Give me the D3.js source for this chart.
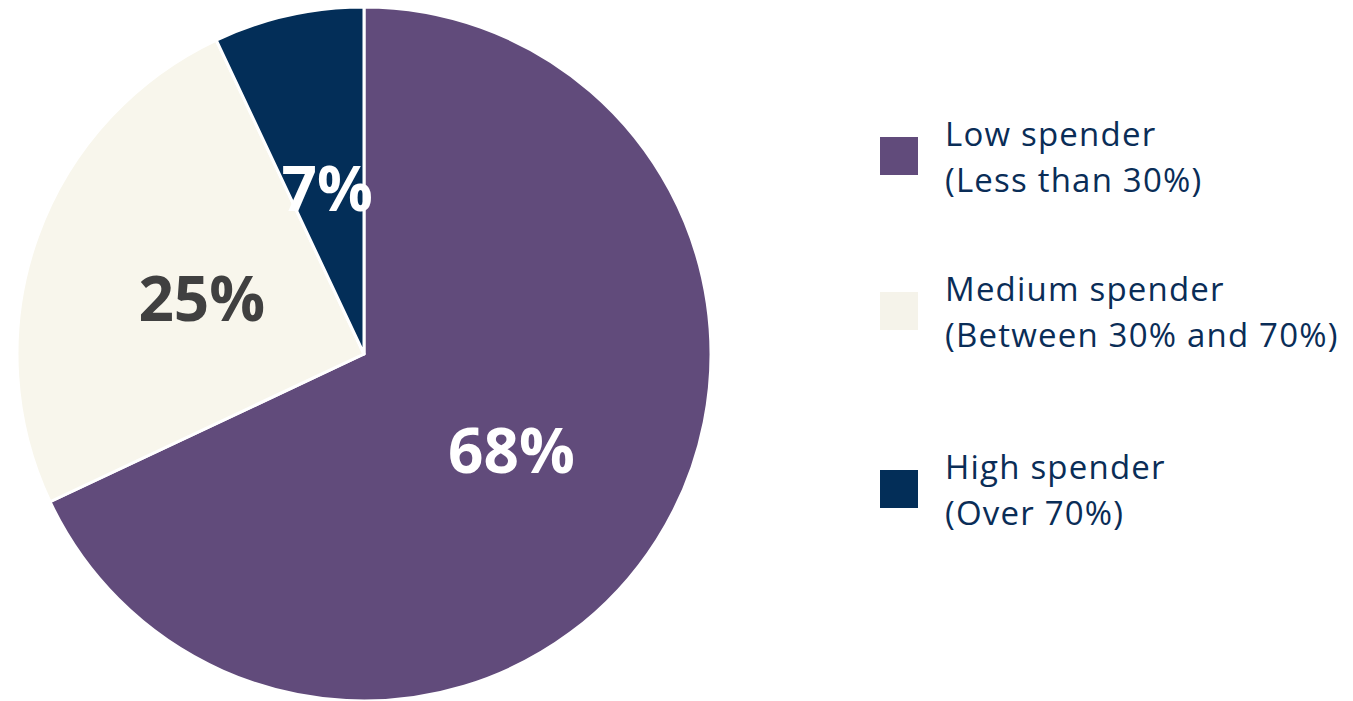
<!DOCTYPE html>
<html>
<head>
<meta charset="utf-8">
<script src="https://cdn.jsdelivr.net/npm/d3@7"></script>
<style>
  html, body { margin: 0; padding: 0; background: #ffffff; }
  svg { display: block; }
</style>
</head>
<body>
<svg id="chart" width="1353" height="701"></svg>
<script>
const categories = ["Low spender", "Medium spender", "High spender"];
const subtitles = ["(Less than 30%)", "(Between 30% and 70%)", "(Over 70%)"];
const values = [68, 25, 7];
const labels = ["68%", "25%", "7%"];
const colors = ["#614b7b", "#f8f6ec", "#032e58"];
const legendColors = ["#614b7b", "#f5f3ea", "#032e58"];
const labelColors = ["#ffffff", "#404040", "#ffffff"];

const svg = d3.select("#chart");
const cx = 364, cy = 354, R = 347;
const fontFamily = "'Open Sans', 'Noto Sans', sans-serif";

const pie = d3.pie().sort(null).value(d => d);
const arcs = pie(values);
const arc = d3.arc().innerRadius(0).outerRadius(R);
const labelArc = d3.arc().innerRadius(R * 0.5).outerRadius(R * 0.5);

const g = svg.append("g").attr("transform", `translate(${cx},${cy})`);
g.selectAll("path.slice").data(arcs).enter().append("path")
  .attr("class", "slice")
  .attr("d", arc)
  .attr("fill", (d, i) => colors[i])
  .attr("stroke", "#ffffff")
  .attr("stroke-width", 3)
  .attr("stroke-linejoin", "round");

g.selectAll("text.lbl").data(arcs).enter().append("text")
  .attr("class", "lbl")
  .attr("x", d => labelArc.centroid(d)[0] + 1)
  .attr("y", d => labelArc.centroid(d)[1] + 26)
  .attr("text-anchor", "middle")
  .attr("font-family", fontFamily)
  .attr("font-weight", 700)
  .attr("font-size", 62)
  .attr("fill", (d, i) => labelColors[i])
  .text((d, i) => labels[i]);

// Legend
const legendY = d3.scaleOrdinal().domain(categories).range([137, 292, 470]);
const leg = svg.append("g");
const items = leg.selectAll("g.item").data(categories).enter().append("g")
  .attr("class", "item")
  .attr("transform", d => `translate(880,${legendY(d)})`);
items.append("rect")
  .attr("width", 38).attr("height", 38)
  .attr("fill", (d, i) => legendColors[i]);
items.append("text")
  .attr("x", 65).attr("y", 9)
  .attr("font-family", fontFamily)
  .attr("font-size", 33)
  .attr("letter-spacing", 1.2)
  .attr("fill", "#0a2d57")
  .text(d => d);
items.append("text")
  .attr("x", 65).attr("y", 55)
  .attr("font-family", fontFamily)
  .attr("font-size", 33)
  .attr("letter-spacing", 1.2)
  .attr("fill", "#0a2d57")
  .text((d, i) => subtitles[i]);
</script>
</body>
</html>
